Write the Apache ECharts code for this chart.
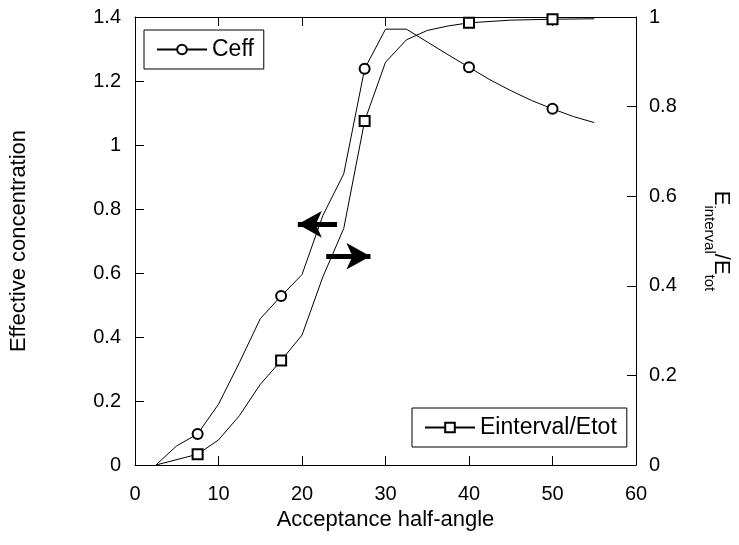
<!DOCTYPE html>
<html>
<head>
<meta charset="utf-8">
<script src="https://cdn.jsdelivr.net/npm/echarts@6/dist/echarts.min.js"></script>
<style>
  html, body { margin: 0; padding: 0; background: #fff; }
  #chart { width: 739px; height: 545px; }
</style>
</head>
<body>
<div id="chart"></div>
<script>
// Ceff curve (left axis)
var ceffAngles = [2.5, 5, 7.5, 10, 12.5, 15, 17.5, 20, 22.5, 25, 27.5, 30, 32.5, 35, 37.5, 40, 42.5, 45, 47.5, 50, 52.5, 55];
var ceffValues = [0, 0.06, 0.097, 0.19, 0.32, 0.457, 0.528, 0.595, 0.78, 0.91, 1.238, 1.362, 1.362, 1.322, 1.282, 1.243, 1.204, 1.17, 1.139, 1.113, 1.089, 1.07];
// Einterval/Etot curve (right axis)
var ratioAngles = [2.5, 7.5, 10, 12.5, 15, 17.5, 20, 22.5, 25, 27.5, 30, 32.5, 35, 37.5, 40, 45, 50, 55];
var ratioValues = [0, 0.024, 0.056, 0.11, 0.18, 0.233, 0.29, 0.42, 0.528, 0.768, 0.899, 0.949, 0.97, 0.98, 0.987, 0.993, 0.995, 0.996];
// points that carry a marker
var markerAngles = [7.5, 17.5, 27.5, 40, 50];
// arrows: [fromX, toX, y]
var leftArrow = [24.2, 19.5, 0.752];
var rightArrow = [22.9, 28.2, 0.466];

var FONT = "'Liberation Sans', Arial, sans-serif";

function toPoints(xs, ys) {
  return xs.map(function (x, i) {
    return {
      value: [x, ys[i]],
      symbolSize: markerAngles.indexOf(x) >= 0 ? 10 : 0
    };
  });
}

var myChart = echarts.init(document.getElementById("chart"));

var axisLine = { show: true, onZero: false, lineStyle: { color: "#000", width: 1 } };
var axisTick = { show: true, inside: true, length: 9, lineStyle: { color: "#000", width: 1 } };

var option = {
  backgroundColor: "#fff",
  animation: false,
  textStyle: { fontFamily: FONT },
  grid: { left: 135, right: 103, top: 17, bottom: 80, containLabel: false, outerBoundsMode: "none" },
  legend: [
    {
      data: ["Ceff"],
      left: 144,
      top: 30,
      orient: "vertical",
      borderColor: "#000",
      borderWidth: 1,
      padding: [8, 10, 8, 12],
      itemWidth: 50,
      itemHeight: 12,
      itemGap: 0,
      textStyle: { fontSize: 23, color: "#000", fontFamily: FONT }
    },
    {
      data: ["Einterval/Etot"],
      left: 412,
      top: 408,
      orient: "vertical",
      borderColor: "#000",
      borderWidth: 1,
      padding: [8, 10, 8, 12],
      itemWidth: 50,
      itemHeight: 12,
      itemGap: 0,
      textStyle: { fontSize: 23, color: "#000", fontFamily: FONT }
    }
  ],
  xAxis: [
    {
      type: "value",
      min: 0,
      max: 60,
      interval: 10,
      name: "Acceptance half-angle",
      nameLocation: "middle",
      nameGap: 43,
      nameTextStyle: { fontSize: 22, color: "#000", fontFamily: FONT },
      axisLine: axisLine,
      axisTick: axisTick,
      axisLabel: { fontSize: 20, color: "#000", margin: 19, fontFamily: FONT },
      splitLine: { show: false }
    },
    {
      type: "value",
      position: "top",
      min: 0,
      max: 60,
      interval: 10,
      axisLine: axisLine,
      axisTick: axisTick,
      axisLabel: { show: false },
      splitLine: { show: false }
    }
  ],
  yAxis: [
    {
      type: "value",
      position: "left",
      min: 0,
      max: 1.4,
      interval: 0.2,
      name: "Effective concentration",
      nameLocation: "middle",
      nameGap: 105,
      nameTextStyle: { fontSize: 22, color: "#000", fontFamily: FONT },
      axisLine: axisLine,
      axisTick: axisTick,
      axisLabel: { fontSize: 20, color: "#000", margin: 14, fontFamily: FONT },
      splitLine: { show: false }
    },
    {
      type: "value",
      position: "right",
      min: 0,
      max: 1,
      interval: 0.2,
      name: "{b|E}{s|interval}{b|/E}{s|tot}",
      nameLocation: "middle",
      nameRotate: -90,
      nameGap: 66,
      nameTextStyle: {
        color: "#000",
        fontFamily: FONT,
        rich: {
          b: { fontSize: 22, color: "#000", fontFamily: FONT, lineHeight: 30, verticalAlign: "top" },
          s: { fontSize: 15, color: "#000", fontFamily: FONT, lineHeight: 30, verticalAlign: "bottom" }
        }
      },
      axisLine: axisLine,
      axisTick: axisTick,
      axisLabel: { fontSize: 20, color: "#000", margin: 13, fontFamily: FONT },
      splitLine: { show: false }
    }
  ],
  series: [
    {
      name: "Ceff",
      type: "line",
      xAxisIndex: 0,
      yAxisIndex: 0,
      data: toPoints(ceffAngles, ceffValues),
      symbol: "emptyCircle",
      showAllSymbol: true,
      lineStyle: { color: "#000", width: 1 },
      itemStyle: { color: "#000", borderColor: "#000", borderWidth: 1 },
      markLine: {
        silent: true,
        symbol: ["none", "arrow"],
        symbolSize: [20, 24],
        label: { show: false },
        lineStyle: { color: "#000", width: 5, type: "solid" },
        data: [[{ coord: [leftArrow[0], leftArrow[2]] }, { coord: [leftArrow[1], leftArrow[2]] }]]
      }
    },
    {
      name: "Einterval/Etot",
      type: "line",
      xAxisIndex: 0,
      yAxisIndex: 1,
      data: toPoints(ratioAngles, ratioValues),
      symbol: "emptyRect",
      showAllSymbol: true,
      lineStyle: { color: "#000", width: 1 },
      itemStyle: { color: "#000", borderColor: "#000", borderWidth: 1 },
      markLine: {
        silent: true,
        symbol: ["none", "arrow"],
        symbolSize: [20, 24],
        label: { show: false },
        lineStyle: { color: "#000", width: 5, type: "solid" },
        data: [[{ coord: [rightArrow[0], rightArrow[2]] }, { coord: [rightArrow[1], rightArrow[2]] }]]
      }
    }
  ]
};

myChart.setOption(option);
window.onresize = function () {
  myChart.resize();
};
</script>
</body>
</html>
